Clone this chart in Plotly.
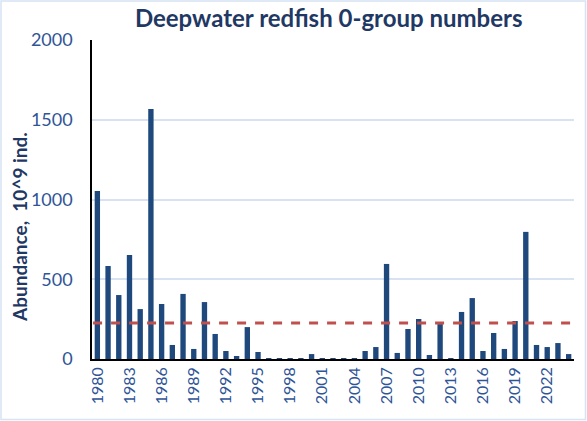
import plotly.graph_objects as go

years = list(range(1980, 2025))
abundance = [
    1053, 583, 401, 652, 313, 1567, 345, 88, 408, 63,
    357, 157, 50, 19, 200, 44, 6, 6, 6, 6,
    31, 6, 6, 6, 6, 50, 75, 596, 38, 188,
    251, 25, 219, 6, 295, 382, 50, 163, 63, 238,
    797, 88, 75, 100, 31,
]
long_term_mean = 225
tick_years = list(range(1980, 2025, 3))
y_ticks = [0, 500, 1000, 1500, 2000]

W, H = 587, 421
ml, mr, mt, mb = 92, 13, 40, 62
pw, ph = W - ml - mr, H - mt - mb

fig = go.Figure()
fig.add_trace(
    go.Bar(x=years, y=abundance, marker_color="#1F497D", marker_line_width=0)
)

# reference level
fig.add_shape(
    type="line",
    xref="x", yref="y",
    x0=years[0] - 0.4, x1=years[-1] + 0.4,
    y0=long_term_mean, y1=long_term_mean,
    line=dict(color="#C0504D", width=3, dash="dash"),
)
# light outer border of the chart
fig.add_shape(
    type="rect",
    xref="paper", yref="paper",
    x0=(-ml + 1) / pw, x1=1 + (mr - 1.5) / pw,
    y0=(-mb + 1.5) / ph, y1=1 + (mt - 1) / ph,
    line=dict(color="#D6E3F5", width=1.5),
)

# y axis title sits a bit below the middle of the plot, as in the original
fig.add_annotation(
    text="<b>Abundance,  10^9 ind.</b>",
    textangle=-90,
    xref="paper", yref="paper",
    x=(19 - ml) / pw, y=(H - mb - 227) / ph,
    xanchor="center", yanchor="middle",
    showarrow=False,
    font=dict(size=19, color="#1F3864"),
)

fig.update_layout(
    width=W, height=H,
    margin=dict(l=ml, r=mr, t=mt, b=mb, autoexpand=False),
    plot_bgcolor="white",
    paper_bgcolor="white",
    bargap=0.5,
    showlegend=False,
    font=dict(family="Lato", color="#2F5597"),
    title=dict(
        text="<b>Deepwater redfish 0-group numbers</b>",
        x=0.56, xanchor="center",
        y=0.957, yanchor="middle",
        font=dict(size=24, color="#1F3864"),
    ),
    xaxis=dict(
        range=[1979.5, 2024.5],
        tickmode="array",
        tickvals=tick_years,
        tickangle=-90,
        tickfont=dict(size=16),
        showgrid=False,
        showline=True,
        linecolor="black",
        linewidth=1.5,
        ticks="",
    ),
    yaxis=dict(
        range=[0, 2000],
        tickvals=y_ticks,
        tickfont=dict(size=18),
        ticklabelstandoff=14,
        showgrid=True,
        gridcolor="#D9E2F3",
        gridwidth=1.5,
        showline=True,
        linecolor="black",
        linewidth=1.5,
        zeroline=False,
        ticks="",
    ),
)

# the page puts the figure flush with the window corner
fig.write_html(
    "out.html",
    config={"displayModeBar": False},
    post_script="document.body.style.margin='0';",
)
